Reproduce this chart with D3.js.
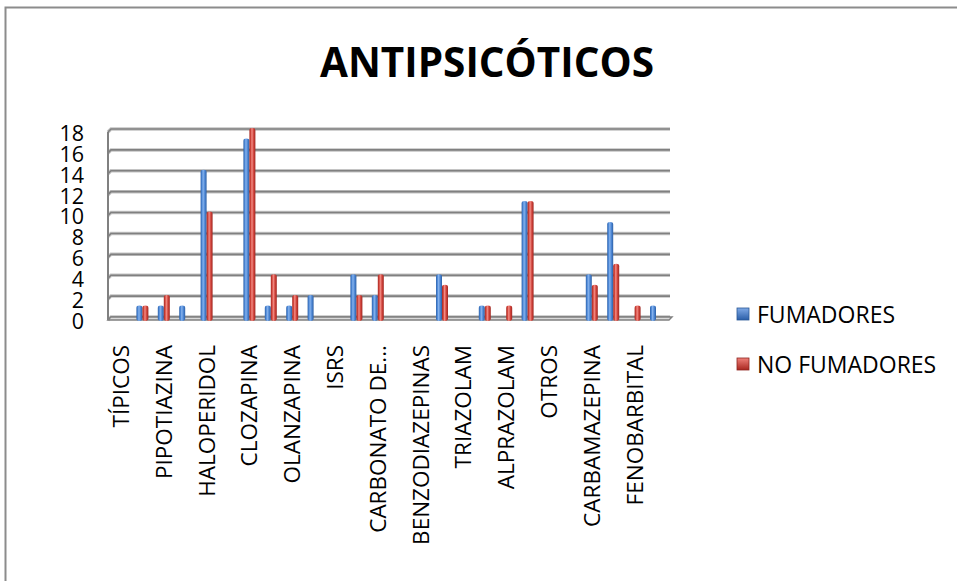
<!DOCTYPE html>
<html>
<head>
<meta charset="utf-8">
<script src="https://cdn.jsdelivr.net/npm/d3@7"></script>
<style>
  html, body { margin: 0; padding: 0; background: #fff; }
  svg { display: block; }
  text { font-family: "Open Sans", "DejaVu Sans", sans-serif; fill: #000; }
</style>
</head>
<body>
<svg id="chart" width="957" height="581"></svg>
<script>
// Category axis: every other slot carries a visible label
const categories = [
  "TÍPICOS", "", "PIPOTIAZINA", "", "HALOPERIDOL", "", "CLOZAPINA", "",
  "OLANZAPINA", "", "ISRS", "", "CARBONATO DE...", "", "BENZODIAZEPINAS", "",
  "TRIAZOLAM", "", "ALPRAZOLAM", "", "OTROS", "", "CARBAMAZEPINA", "",
  "FENOBARBITAL", ""
];
const fumadores   = [0, 1, 1, 1, 14, 0, 17, 1, 1, 2, 0, 4, 2, 0, 0, 4, 0, 1, 0, 11, 0, 0, 4, 9, 0, 1];
const noFumadores = [0, 1, 2, 0, 10, 0, 18, 4, 2, 0, 0, 2, 4, 0, 0, 3, 0, 1, 1, 11, 0, 0, 3, 5, 1, 0];
const seriesNames = ["FUMADORES", "NO FUMADORES"];
const yTicks = [0, 2, 4, 6, 8, 10, 12, 14, 16, 18];
const chartTitle = "ANTIPSICÓTICOS";

const svg = d3.select("#chart");
const defs = svg.append("defs");

// Cylinder shading for each series
const palette = [
  { id: "gBlue", stops: ["#2f62a8", "#4a86d6", "#86b2ec", "#4a84d2", "#2d5fa3"] },
  { id: "gRed",  stops: ["#a42a23", "#d2443b", "#f28d85", "#cf4038", "#9e2822"] }
];
palette.forEach(p => {
  const g = defs.append("linearGradient").attr("id", p.id)
    .attr("x1", "0").attr("x2", "1").attr("y1", "0").attr("y2", "0");
  [0, 0.22, 0.42, 0.72, 1].forEach((o, i) =>
    g.append("stop").attr("offset", o).attr("stop-color", p.stops[i]));
});
const legendGrad = [
  { id: "lBlue", top: "#7fa9e6", bottom: "#2a5ea8" },
  { id: "lRed",  top: "#ef8079", bottom: "#a8261f" }
];
legendGrad.forEach(p => {
  const g = defs.append("linearGradient").attr("id", p.id)
    .attr("x1", "0").attr("x2", "0").attr("y1", "0").attr("y2", "1");
  g.append("stop").attr("offset", 0).attr("stop-color", p.top);
  g.append("stop").attr("offset", 1).attr("stop-color", p.bottom);
});

// Outer chart frame
svg.append("rect")
  .attr("x", 5.5).attr("y", 7.5).attr("width", 1200).attr("height", 1200)
  .attr("fill", "none").attr("stroke", "#8c8c8c").attr("stroke-width", 2);

// Title
svg.append("text")
  .attr("x", 487).attr("y", 77)
  .attr("text-anchor", "middle")
  .attr("font-size", 40.5).attr("font-weight", 700)
  .text(chartTitle);

// Scales
const x = d3.scaleBand().domain(d3.range(categories.length)).range([110.3, 666.7]);
const xs = d3.scaleBand().domain(seriesNames).range([-6, 6]);
const y = d3.scaleLinear().domain([0, 18]).range([317, 129]);

const depth = 3;
const left = 108, right = 670;

// Back-wall gridlines with short side-wall return
const grid = svg.append("g");
yTicks.forEach(t => {
  const yy = y(t);
  grid.append("path")
    .attr("d", `M${left},${yy + depth} L${left + depth},${yy} H${right}`)
    .attr("fill", "none").attr("stroke", "#c4c4c4").attr("stroke-width", 3.5);
  grid.append("path")
    .attr("d", `M${left},${yy + depth} L${left + depth},${yy} H${right}`)
    .attr("fill", "none").attr("stroke", "#808080").attr("stroke-width", 1.6);
});
// Side wall front edge
grid.append("line")
  .attr("x1", left).attr("x2", left)
  .attr("y1", y(18) + depth).attr("y2", y(0) + depth)
  .attr("stroke", "#808080").attr("stroke-width", 2);
// Floor
grid.append("path")
  .attr("d", `M${left},${y(0) + depth} L${left + depth},${y(0)} H${right + 2} L${right - 1},${y(0) + depth} Z`)
  .attr("fill", "#d9d9d9").attr("stroke", "#808080").attr("stroke-width", 1.4);

// Y axis labels
const yAxis = d3.axisLeft(y).tickValues(yTicks).tickSize(0).tickPadding(0);
const yg = svg.append("g").attr("transform", `translate(84,${depth + 1.5})`).call(yAxis);
yg.select(".domain").remove();
yg.selectAll("text")
  .attr("font-size", 21.5)
  .attr("font-family", "'Open Sans', sans-serif")
  .attr("fill", "#000");

// Cylinder bars
const rows = [];
categories.forEach((c, i) => {
  rows.push({ i, s: seriesNames[0], v: fumadores[i], fill: "url(#gBlue)" });
  rows.push({ i, s: seriesNames[1], v: noFumadores[i], fill: "url(#gRed)" });
});
const bw = xs.bandwidth();
svg.append("g").selectAll("rect")
  .data(rows.filter(d => d.v > 0))
  .join("rect")
  .attr("x", d => x(d.i) + x.bandwidth() / 2 + xs(d.s))
  .attr("y", d => y(d.v) - 1)
  .attr("width", bw)
  .attr("height", d => y(0) + depth + 1 - y(d.v) + 1)
  .attr("rx", bw / 2).attr("ry", 2.4)
  .attr("fill", d => d.fill);

// Category labels, rotated
const xg = svg.append("g");
categories.forEach((c, i) => {
  if (!c) return;
  const cx = x(i) + x.bandwidth() / 2 + 8;
  xg.append("text")
    .attr("transform", `translate(${cx},345) rotate(-90)`)
    .attr("text-anchor", "end")
    .attr("font-size", 22.5)
    .text(c);
});

// Legend
const legend = svg.append("g");
seriesNames.forEach((s, i) => {
  const ly = 315 + i * 50;
  legend.append("rect")
    .attr("x", 737).attr("y", ly - 7).attr("width", 12).attr("height", 12)
    .attr("fill", i === 0 ? "url(#lBlue)" : "url(#lRed)")
    .attr("stroke", i === 0 ? "#2a5796" : "#8e2520").attr("stroke-width", 0.8);
  legend.append("text")
    .attr("x", 757).attr("y", ly + 8)
    .attr("font-size", 23)
    .text(s);
});
</script>
</body>
</html>
